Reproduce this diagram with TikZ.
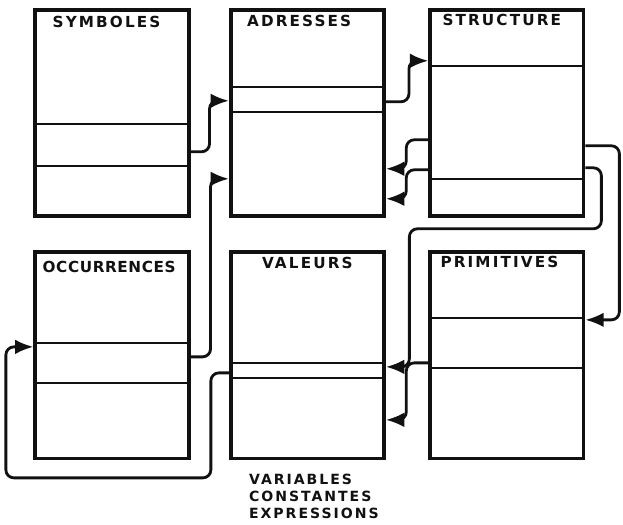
\documentclass[tikz,border=0pt]{standalone}
\usepackage{fontspec}
\newfontfamily\handfont[LetterSpace=14]{DejaVu Sans}
\newfontfamily\handtight[LetterSpace=4]{DejaVu Sans}
\usetikzlibrary{positioning,arrows.meta}
\usepackage{xcolor}
\definecolor{ink}{HTML}{111111}

\begin{document}
\begin{tikzpicture}[x=0.3mm,y=-0.3mm,
          font=\handfont\bfseries\fontsize{13}{16}\selectfont,
          table/.style={draw=ink,line width=3.2pt,minimum width=4.6cm,
                        minimum height=6.2cm,inner sep=0pt},
          sep/.style={draw=ink,line width=1.7pt},
          ttl/.style={anchor=west,inner sep=0pt,text=ink},
          link/.style={-{Latex[length=5.5mm,width=4.4mm]},line width=2.4pt,
                       ink,rounded corners=2.4mm},
          node distance=0.95cm and 1.15cm]
        \useasboundingbox (0,0) rectangle (623,525);
        \node[table] (sym) at (112,113) {};
        \node[table,right=1.15cm of sym] (adr) {};
        \node[table,right=1.27cm of adr] (str) {};
        \node[table,below=0.95cm of sym] (occ) {};
        \node[table,below=0.95cm of adr] (val) {};
        \node[table,below=0.95cm of str] (pri) {};
        \node[ttl] (symT) at ([shift={(19,14)}]sym.north west) {SYMBOLES};
        \node[ttl] (adrT) at ([shift={(18,13)}]adr.north west) {ADRESSES};
        \node[ttl] (strT) at ([shift={(14,12)}]str.north west) {STRUCTURE};
        \node[ttl,font=\handtight\bfseries\fontsize{13}{16}\selectfont] (occT)
              at ([shift={(9,17)}]occ.north west) {OCCURRENCES};
        \node[ttl] (valT) at ([shift={(33,13)}]val.north west) {VALEURS};
        \node[ttl] (priT) at ([shift={(12,12)}]pri.north west) {PRIMITIVES};
        \node[anchor=north west,align=left,inner sep=0pt,text=ink,
              font=\handfont\bfseries\fontsize{12}{14.5}\selectfont] (valNote)
              at ([shift={(20,14)}]val.south west) {VARIABLES\\CONSTANTES\\EXPRESSIONS};
        % field separators
        \foreach \b/\o in {sym/116,sym/158,adr/79,adr/104,str/58,str/171,
                           occ/93,occ/133,val/113,val/128,pri/68,pri/118}
          \draw[sep] ([shift={(0,\o)}]\b.north west) -- ([shift={(0,\o)}]\b.north east);
        % pointers
        \draw[link] ([shift={(0,144)}]sym.north east) -- ++(19,0) |- ([shift={(0,93)}]adr.north west);
        \draw[link] ([shift={(0,107)}]occ.north east) -- ++(20,0) |- ([shift={(0,171)}]adr.north west);
        \draw[link] ([shift={(0,94)}]adr.north east) -- ++(23,0) |- ([shift={(0,53)}]str.north west);
        \draw[link] ([shift={(0,132)}]str.north west) -- ++(-22,0) |- ([shift={(0,161)}]adr.north east);
        \draw[link] ([shift={(0,162)}]str.north west) -- ++(-22,0) |- ([shift={(0,191)}]adr.north east);
        \draw[link] ([shift={(0,138)}]str.north east) -- ++(34,0) |- ([shift={(0,70)}]pri.north east);
        \draw[link] ([shift={(0,160)}]str.north east) -- ++(16,0) -- ++(0,61) -- ++(-192,0)
              |- ([shift={(0,117)}]val.north east);
        \draw[link] ([shift={(0,113)}]pri.north west) -- ++(-22,0) |- ([shift={(0,170)}]val.north east);
        \draw[link] ([shift={(0,123)}]val.north west) -- ++(-18,0) -- ++(0,105) -- ++(-205,0)
              |- ([shift={(0,97)}]occ.north west);
      \end{tikzpicture}
\end{document}
